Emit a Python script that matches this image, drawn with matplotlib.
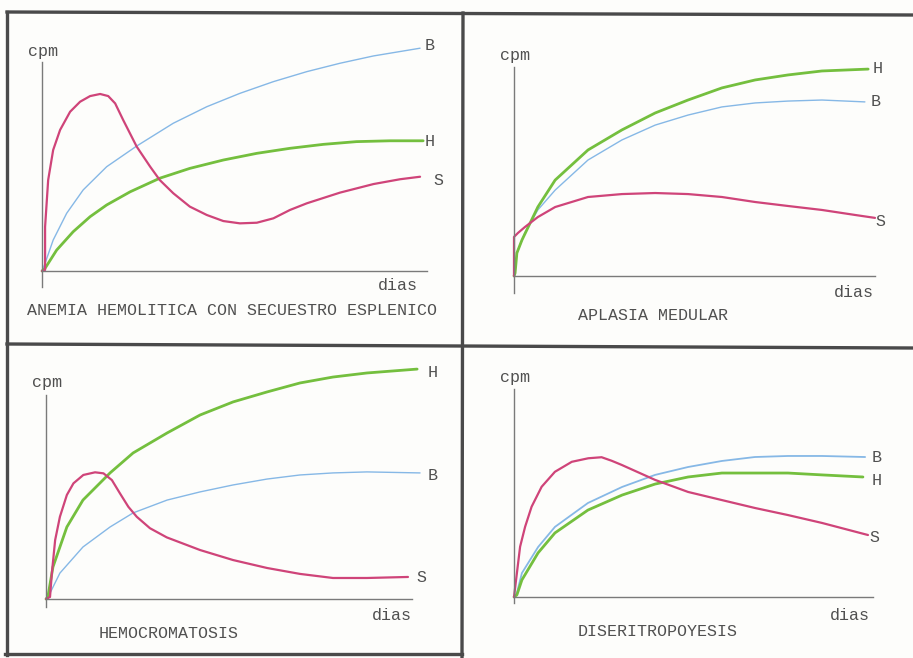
import matplotlib
matplotlib.use('Agg')
import matplotlib.pyplot as plt
from matplotlib.lines import Line2D

# curves, x = dias (0..100), y = cpm (0..100)
# anemia hemolitica
tl_b_x = [0, 0.8, 2.9, 6.4, 10.7, 16.8, 24.6, 34.1, 42.8, 51.4, 60.1, 68.8, 77.4, 86.1, 98.2]
tl_b_y = [0, 3.7, 14.8, 27.6, 38.8, 49.9, 59.8, 70.7, 78.6, 85.0, 90.6, 95.4, 99.4, 102.9, 106.6]
tl_h_x = [0, 0.8, 3.8, 8.1, 12.5, 16.8, 22.9, 30.6, 38.4, 47.1, 55.8, 64.4, 73.1, 81.7, 90.4, 99.0]
tl_h_y = [0, 1.3, 10.0, 18.8, 26.0, 31.6, 37.9, 44.4, 49.1, 53.1, 56.3, 58.7, 60.6, 61.9, 62.3, 62.3]
tl_s_x = [0, 0.8, 0.8, 1.6, 2.9, 4.7, 7.3, 9.9, 12.5, 15.1, 17.2, 19.0, 21.1, 24.6, 28.1, 30.6, 34.1,
          38.4, 42.8, 47.1, 51.4, 55.8, 60.1, 64.4, 68.8, 77.4, 86.1, 93.0, 98.2]
tl_s_y = [0, 0.5, 21.1, 43.5, 57.9, 67.5, 76.2, 81.0, 83.7, 84.7, 83.7, 80.2, 72.2, 59.5, 49.9, 43.5, 37.2,
          30.8, 26.8, 23.9, 22.8, 23.1, 25.2, 29.2, 32.4, 37.5, 41.6, 43.9, 45.1]

# aplasia medular
tr_h_x = [0, 0.3, 0.8, 2.2, 6.6, 11.4, 20.5, 29.9, 39.1, 48.2, 57.6, 66.8, 75.9, 85.3, 98.1]
tr_h_y = [0, 1.4, 11.0, 17.2, 33.0, 45.9, 60.3, 69.9, 78.0, 84.2, 90.0, 93.8, 96.2, 98.1, 99.0]
tr_b_x = [0, 0.8, 3.0, 6.6, 11.4, 20.5, 29.9, 39.1, 48.2, 57.6, 66.8, 75.9, 85.3, 97.2]
tr_b_y = [0, 11.0, 20.6, 31.6, 41.1, 55.5, 65.1, 72.2, 77.0, 80.9, 82.8, 83.7, 84.2, 83.3]
tr_s_x = [0, 0, 1.1, 3.0, 6.6, 11.4, 20.5, 29.9, 39.1, 48.2, 57.6, 66.8, 75.9, 85.3, 94.5, 100]
tr_s_y = [0, 18.7, 20.6, 23.4, 28.2, 33.0, 37.8, 39.2, 39.7, 39.2, 37.8, 35.4, 33.5, 31.6, 29.2, 27.8]

# hemocromatosis
bl_h_x = [0, 0.5, 1.9, 5.7, 10.1, 17.5, 23.8, 33.1, 42.1, 51.1, 60.4, 69.4, 78.4, 87.7, 101.4]
bl_h_y = [0, 1.0, 15.7, 35.3, 48.5, 61.8, 71.6, 81.4, 90.2, 96.6, 101.5, 105.9, 108.8, 110.8, 112.7]
bl_b_x = [0, 1.1, 3.8, 10.1, 17.5, 23.8, 33.1, 42.1, 51.1, 60.4, 69.4, 78.4, 87.7, 102.2]
bl_b_y = [0, 2.9, 12.7, 25.5, 35.3, 42.2, 48.5, 52.5, 55.9, 58.8, 60.8, 61.8, 62.3, 61.8]
bl_s_x = [0, 1.1, 1.6, 2.5, 3.8, 5.7, 7.5, 10.2, 13.4, 15.7, 18.0, 20.2, 22.5, 24.8, 28.4, 33.0,
          42.1, 51.1, 60.4, 69.4, 78.4, 87.7, 98.9]
bl_s_y = [0, 1.0, 12.6, 28.9, 40.3, 51.0, 56.7, 60.8, 62.1, 61.6, 58.3, 51.8, 45.2, 40.3, 34.7, 30.2,
          24.0, 19.1, 15.2, 12.3, 10.3, 10.3, 10.8]

# diseritropoyesis
br_b_x = [0, 0.8, 2.2, 6.7, 11.4, 20.6, 30.1, 39.3, 48.5, 57.9, 67.1, 76.3, 85.8, 97.8]
br_b_y = [0, 1.9, 11.5, 24.0, 33.7, 45.2, 52.9, 58.7, 62.5, 65.4, 67.3, 67.8, 67.8, 67.3]
br_h_x = [0, 0.8, 2.2, 6.7, 11.4, 20.6, 30.1, 39.3, 48.5, 57.9, 67.1, 76.3, 85.8, 97.2]
br_h_y = [0, 1.0, 8.2, 21.2, 30.8, 41.8, 49.0, 54.3, 57.7, 59.6, 59.6, 59.6, 58.7, 57.7]
br_s_x = [0, 0.8, 1.7, 3.1, 4.9, 7.7, 11.4, 16.1, 20.7, 24.4, 27.2, 30.0, 39.3, 48.5, 57.9, 67.1,
          76.3, 85.8, 98.6]
br_s_y = [0, 11.4, 24.2, 33.8, 43.4, 53.0, 60.2, 65.0, 66.7, 67.2, 65.5, 63.5, 56.3, 50.5, 46.6, 42.8,
          39.4, 35.6, 29.8]

BLUE = '#86b8e6'
GREEN = '#74bf3e'
PINK = '#cf4479'
INK = '#505050'
FONT = ['Liberation Mono', 'DejaVu Sans Mono']

W, H = 913, 658
fig = plt.figure(figsize=(W / 100, H / 100), dpi=100)
fig.patch.set_facecolor('#fdfdfb')


def px_axes(ox, oy, xe, yt):
    return fig.add_axes([ox / W, 1 - oy / H, (xe - ox) / W, (oy - yt) / H])


def panel(ax, series, title, title_xy, cpm_xy, dias_xy, labels, below):
    ax.set_xlim(0, 100)
    ax.set_ylim(0, 100)
    ax.patch.set_alpha(0)
    for s in ['top', 'right']:
        ax.spines[s].set_visible(False)
    ax.spines['left'].set_bounds(-below, 100)
    for s in ['left', 'bottom']:
        ax.spines[s].set_color('#7a7a7a')
        ax.spines[s].set_linewidth(1.0)
    ax.set_xticks([])
    ax.set_yticks([])
    for x, y, c, lw in series:
        ax.plot(x, y, color=c, lw=lw, clip_on=False, solid_capstyle='round', solid_joinstyle='round')
    kw = dict(family=FONT, fontsize=12, color=INK, ha='center', va='center')
    ax.text(*cpm_xy, 'cpm', clip_on=False, **kw)
    ax.text(*dias_xy, 'dias', clip_on=False, **kw)
    ax.text(*title_xy, title, clip_on=False, **kw)
    for name, (lx, ly) in labels.items():
        ax.text(lx, ly, name, clip_on=False, **kw)


ax = px_axes(42, 271, 427, 62)
panel(ax, [(tl_b_x, tl_b_y, BLUE, 1.0), (tl_h_x, tl_h_y, GREEN, 2.0), (tl_s_x, tl_s_y, PINK, 1.6)],
      'ANEMIA HEMOLITICA CON SECUESTRO ESPLENICO', (49.4, -18.7), (0.3, 104.8), (92.5, -6.7),
      {'B': (100.8, 107.7), 'H': (100.8, 62.2), 'S': (102.9, 43.5)}, 7.7)

ax = px_axes(514, 276, 875, 67)
panel(ax, [(tr_b_x, tr_b_y, BLUE, 1.0), (tr_h_x, tr_h_y, GREEN, 2.0), (tr_s_x, tr_s_y, PINK, 1.6)],
      'APLASIA MEDULAR', (38.5, -18.7), (0.3, 105.7), (94.2, -8.1),
      {'H': (100.6, 99.5), 'B': (100.3, 83.3), 'S': (101.4, 26.3)}, 8.0)

ax = px_axes(46, 599, 412, 395)
panel(ax, [(bl_b_x, bl_b_y, BLUE, 1.0), (bl_h_x, bl_h_y, GREEN, 2.0), (bl_s_x, bl_s_y, PINK, 1.6)],
      'HEMOCROMATOSIS', (33.6, -16.7), (0.3, 105.9), (94.5, -8.3),
      {'H': (105.7, 110.8), 'B': (105.7, 60.3), 'S': (102.7, 10.3)}, 4.0)

ax = px_axes(514, 597, 873, 389)
panel(ax, [(br_b_x, br_b_y, BLUE, 1.3), (br_h_x, br_h_y, GREEN, 2.0), (br_s_x, br_s_y, PINK, 1.6)],
      'DISERITROPOYESIS', (40.1, -16.8), (0.3, 105.3), (93.6, -8.7),
      {'B': (101.1, 67.3), 'H': (101.1, 55.8), 'S': (100.3, 28.8)}, 3.0)

# panel frames of the scanned page
frames = [((7, 913), (12, 15)), ((7, 7), (12, 655)), ((463, 462), (13, 658)),
          ((7, 913), (344, 348)), ((5, 462), (654, 654))]
for xs, ys in frames:
    fig.add_artist(Line2D([x / W for x in xs], [1 - y / H for y in ys],
                          color='#4a4a4a', lw=2.4, transform=fig.transFigure))

fig.savefig('out.png', dpi=100, facecolor=fig.get_facecolor())
